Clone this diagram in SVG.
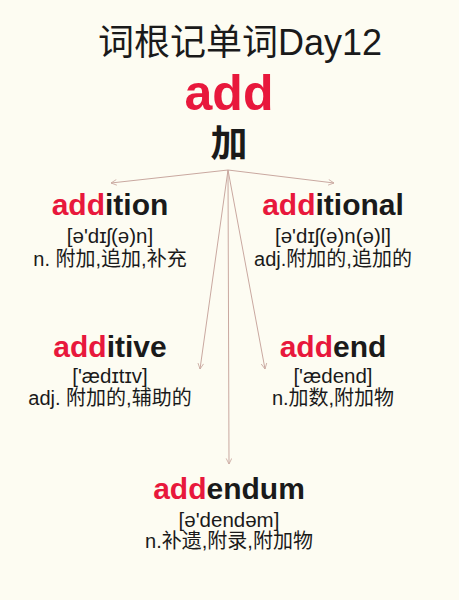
<svg xmlns="http://www.w3.org/2000/svg" width="459" height="600" viewBox="0 0 459 600">
<defs>
<style>
text{font-family:"Liberation Sans","Noto Sans CJK SC",sans-serif;text-anchor:middle;fill:#1a1a1a}
.red{fill:#E8183C}
.w{font-size:30px;font-weight:bold}
.ph{font-size:20.5px}
.m{font-size:20px}
.c{stroke:#C9A8A0;stroke-width:1;fill:none;marker-end:url(#ah)}
</style>
<marker id="ah" viewBox="0 0 10 10" refX="9" refY="5" markerWidth="7" markerHeight="7" orient="auto" markerUnits="userSpaceOnUse">
<path d="M1,1 L9,5 L1,9" fill="none" stroke="#C9A8A0" stroke-width="1.2"/>
</marker>
</defs>
<rect width="459" height="600" fill="#FDFCF2"/>
<g id="title">
<text x="240" y="55" font-size="36">词根记单词Day12</text>
</g>
<g id="root">
<text x="229" y="110" font-size="50" font-weight="bold" class="red">add</text>
<text x="229" y="157" font-size="37" font-weight="bold">加</text>
</g>
<g id="connectors">
<line class="c" x1="228" y1="170" x2="111" y2="183"/>
<line class="c" x1="228" y1="170" x2="334" y2="183"/>
<line class="c" x1="228" y1="170" x2="200" y2="369"/>
<line class="c" x1="228" y1="170" x2="265" y2="369"/>
<line class="c" x1="228" y1="170" x2="229" y2="464"/>
</g>
<g id="addition">
<text x="110" y="215" class="w"><tspan class="red">add</tspan>ition</text>
<text x="110" y="243" class="ph">[ə'dɪʃ(ə)n]</text>
<text x="110" y="266" class="m">n. 附加,追加,补充</text>
</g>
<g id="additional">
<text x="333" y="215" class="w"><tspan class="red">add</tspan>itional</text>
<text x="333" y="243" class="ph">[ə'dɪʃ(ə)n(ə)l]</text>
<text x="333" y="266" class="m">adj.附加的,追加的</text>
</g>
<g id="additive">
<text x="110" y="357" class="w"><tspan class="red">add</tspan>itive</text>
<text x="110" y="383" class="ph">['ædɪtɪv]</text>
<text x="110" y="405" class="m">adj. 附加的,辅助的</text>
</g>
<g id="addend">
<text x="333" y="357" class="w"><tspan class="red">add</tspan>end</text>
<text x="333" y="383" class="ph">['ædend]</text>
<text x="333" y="405" class="m">n.加数,附加物</text>
</g>
<g id="addendum">
<text x="229" y="499" class="w"><tspan class="red">add</tspan>endum</text>
<text x="229" y="527" class="ph">[ə'dendəm]</text>
<text x="229" y="548" class="m">n.补遗,附录,附加物</text>
</g>
</svg>
